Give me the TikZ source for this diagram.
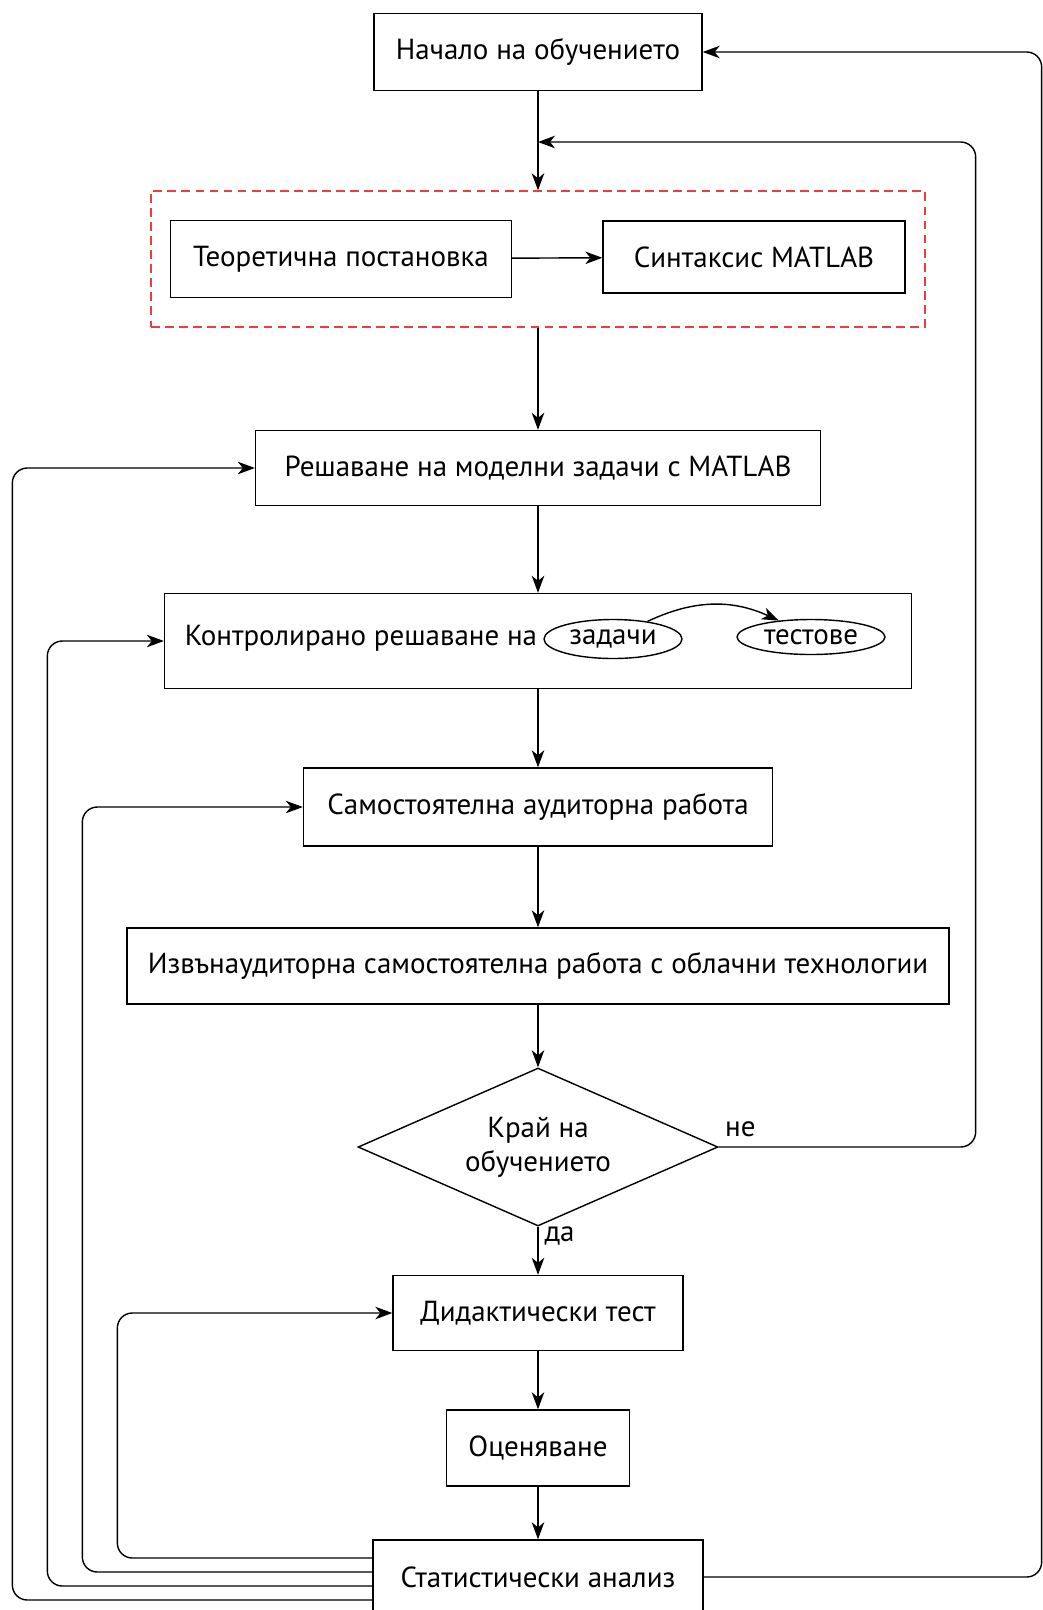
\documentclass[tikz,border=0pt]{standalone}
\usepackage{fontspec}
\setmainfont{PT Sans}
\usetikzlibrary{shapes.geometric}
\usetikzlibrary{arrows.meta}
\definecolor{framered}{RGB}{240,60,60}
\tikzset{
  box/.style={draw, line width=0.8pt, rectangle, inner sep=0pt, align=center},
  group/.style={draw=framered, line width=0.8pt, dash pattern=on 5pt off 3pt, rectangle, inner sep=0pt},
  oval/.style={draw, line width=0.8pt, ellipse, inner sep=0pt},
  decision/.style={draw, line width=0.8pt, diamond, aspect=2.28, inner sep=0pt, align=center},
  flow/.style={->, line width=0.8pt},
  loop/.style={->, line width=0.8pt, rounded corners=0.3cm}
}

\begin{document}
\begin{tikzpicture}[x=0.02cm, y=-0.02cm,
  >={Stealth[length=3.4mm, width=2.5mm, inset=1mm]},
  every node/.style={font=\fontsize{16.5}{19.5}\selectfont}]
\useasboundingbox (0,0) rectangle (1042,1610);

% blocks
\node[box, minimum width=6.56cm, minimum height=1.54cm] (start) at (538,52) {Начало на обучението};
\node[group, minimum width=15.48cm, minimum height=2.72cm] (frame) at (538,259) {};
\node[box, minimum width=6.82cm, minimum height=1.54cm] (theory) at (341,259) {Теоретична постановка};
\node[box, minimum width=6.04cm, minimum height=1.44cm] (syntax) at (754,257) {Синтаксис MATLAB};
\node[box, minimum width=11.3cm, minimum height=1.5cm] (model) at (538,468) {Решаване на моделни задачи с MATLAB};
\node[box, minimum width=14.94cm, minimum height=1.9cm] (control) at (538,641) {};
\node[oval, minimum width=2.76cm, minimum height=0.78cm] (tasks) at (613,639) {задачи};
\node[oval, minimum width=2.96cm, minimum height=0.7cm] (tests) at (811,637) {тестове};
\node[anchor=east] (controltxt) at ([yshift=0.02cm]tasks.west) {Контролирано решаване на};
\node[box, minimum width=9.38cm, minimum height=1.56cm] (self) at (538,807) {Самостоятелна аудиторна работа};
\node[box, minimum width=16.44cm, minimum height=1.52cm] (cloud) at (538,966) {Извънаудиторна самостоятелна работа с облачни технологии};
\node[decision, minimum width=7.2cm, minimum height=3.16cm] (done) at (538,1147) {Край на\\обучението};
\node[box, minimum width=5.8cm, minimum height=1.5cm] (test) at (538,1313) {Дидактически тест};
\node[box, minimum width=3.66cm, minimum height=1.52cm] (grade) at (538,1448) {Оценяване};
\node[box, minimum width=6.6cm, minimum height=1.48cm] (stats) at (538,1577) {Статистически анализ};
\coordinate (backin) at (538,142);

% main line
\draw[flow] (start) -- (frame);
\draw[flow] (theory) -- (syntax);
\draw[flow] (frame) -- (model);
\draw[flow] (model) -- (control);
\draw[flow] (tasks.27) to[bend left=25] (tests.153);
\draw[flow] (control) -- (self);
\draw[flow] (self) -- (cloud);
\draw[flow] (cloud) -- (done);
\draw[flow] (done) -- node[right, pos=0.2] {да} (test);
\draw[flow] (test) -- (grade);
\draw[flow] (grade) -- (stats);

% loops back
\draw[loop] (done.east) node[above right, yshift=2pt] {не} -- ++(257,0) |- (backin);
\draw[loop] (stats.east) -- ++(338,0) |- (start.east);
\draw[loop] ([yshift=0.38cm]stats.west) -- ++(-255,0) |- (test.west);
\draw[loop] ([yshift=0.1cm]stats.west) -- ++(-290,0) |- (self.west);
\draw[loop] ([yshift=-0.18cm]stats.west) -- ++(-325,0) |- (control.west);
\draw[loop] ([yshift=-0.46cm]stats.west) -- ++(-360,0) |- (model.west);
\end{tikzpicture}
\end{document}
